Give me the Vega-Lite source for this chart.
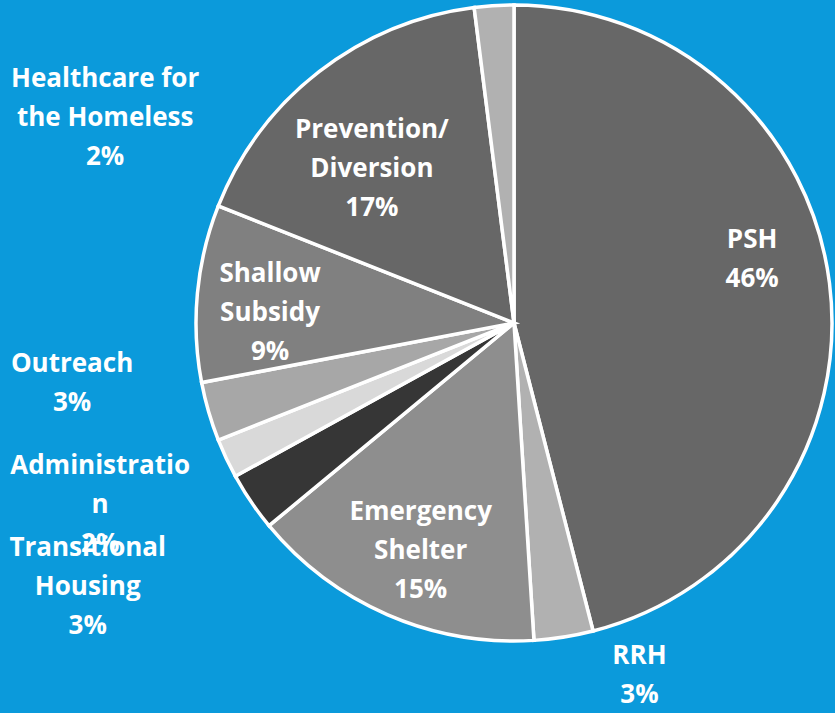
{
  "$schema": "https://vega.github.io/schema/vega-lite/v6.json",
  "width": 636,
  "height": 636,
  "autosize": {"type": "none"},
  "padding": {"left": 196, "top": 5, "right": 3, "bottom": 72},
  "background": "#0B9ADB",
  "config": {"view": {"stroke": null}, "text": {"color": "white", "font": "Open Sans", "fontWeight": "bold", "fontSize": 26, "lineBreak": "\n", "lineHeight": 39, "align": "center", "baseline": "middle"}},
  "data": {
    "values": [
      {"category": "PSH", "value": 46, "order": 1, "label": "PSH\n46%"},
      {"category": "RRH", "value": 3, "order": 2, "label": "RRH\n3%"},
      {"category": "Emergency Shelter", "value": 15, "order": 3, "label": "Emergency\nShelter\n15%"},
      {"category": "Transitional Housing", "value": 3, "order": 4, "label": "Transitional\nHousing\n3%"},
      {"category": "Administration", "value": 2, "order": 5, "label": "Administratio\nn\n2%"},
      {"category": "Outreach", "value": 3, "order": 6, "label": "Outreach\n3%"},
      {"category": "Shallow Subsidy", "value": 9, "order": 7, "label": "Shallow\nSubsidy\n9%"},
      {"category": "Prevention/Diversion", "value": 17, "order": 8, "label": "Prevention/\nDiversion\n17%"},
      {"category": "Healthcare for the Homeless", "value": 2, "order": 9, "label": "Healthcare for\nthe Homeless\n2%"}
    ]
  },
  "encoding": {
    "theta": {"field": "value", "type": "quantitative", "stack": true},
    "order": {"field": "order", "type": "quantitative"},
    "detail": {"field": "category", "type": "nominal"}
  },
  "layer": [
    {
      "mark": {"type": "arc", "outerRadius": 318, "stroke": "white", "strokeWidth": 3.5},
      "encoding": {
        "color": {
          "field": "category",
          "type": "nominal",
          "legend": null,
          "scale": {
            "domain": ["PSH", "RRH", "Emergency Shelter", "Transitional Housing", "Administration", "Outreach", "Shallow Subsidy", "Prevention/Diversion", "Healthcare for the Homeless"],
            "range": ["#676767", "#B1B1B1", "#8E8E8E", "#363636", "#D9D9D9", "#A7A7A7", "#808080", "#676767", "#B1B1B1"]
          }
        }
      }
    },
    {
      "mark": {"type": "text", "radius": 240, "dx": 0, "dy": -52.5},
      "encoding": {"text": {"condition": {"test": "datum.category === 'PSH'", "field": "label"}, "value": ""}}
    },
    {
      "mark": {"type": "text", "radius": 240, "dx": 2, "dy": -31},
      "encoding": {"text": {"condition": {"test": "datum.category === 'Emergency Shelter'", "field": "label"}, "value": ""}}
    },
    {
      "mark": {"type": "text", "radius": 240, "dx": -5, "dy": -26},
      "encoding": {"text": {"condition": {"test": "datum.category === 'Shallow Subsidy'", "field": "label"}, "value": ""}}
    },
    {
      "mark": {"type": "text", "radius": 240, "dx": 5, "dy": -3},
      "encoding": {"text": {"condition": {"test": "datum.category === 'Prevention/Diversion'", "field": "label"}, "value": ""}}
    },
    {
      "mark": {"type": "text", "radius": 380, "dx": 66, "dy": -42.5},
      "encoding": {"text": {"condition": {"test": "datum.category === 'RRH'", "field": "label"}, "value": ""}}
    },
    {
      "mark": {"type": "text", "radius": 380, "dx": -112, "dy": 11},
      "encoding": {"text": {"condition": {"test": "datum.category === 'Transitional Housing'", "field": "label"}, "value": ""}}
    },
    {
      "mark": {"type": "text", "radius": 380, "dx": -70, "dy": -19},
      "encoding": {"text": {"condition": {"test": "datum.category === 'Administration'", "field": "label"}, "value": ""}}
    },
    {
      "mark": {"type": "text", "radius": 380, "dx": -77, "dy": -65.5},
      "encoding": {"text": {"condition": {"test": "datum.category === 'Outreach'", "field": "label"}, "value": ""}}
    },
    {
      "mark": {"type": "text", "radius": 380, "dx": -385, "dy": 135},
      "encoding": {"text": {"condition": {"test": "datum.category === 'Healthcare for the Homeless'", "field": "label"}, "value": ""}}
    }
  ]
}
